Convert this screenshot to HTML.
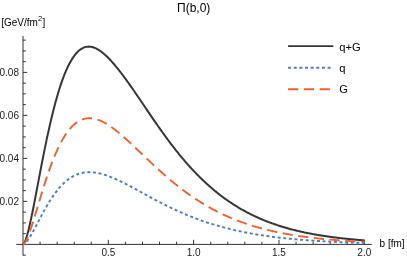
<!DOCTYPE html>
<html><head><meta charset="utf-8"><title>plot</title>
<style>
html,body{margin:0;padding:0;background:#fff;}
body{width:407px;height:258px;overflow:hidden;}
svg{display:block;will-change:transform;font-family:"Liberation Sans",sans-serif;}
</style></head><body>
<svg width="407" height="258" viewBox="0 0 407 258">
<rect width="407" height="258" fill="#ffffff"/>
<line x1="16.2" y1="244.4" x2="371.8" y2="244.4" stroke="#333333" stroke-width="1"/>
<line x1="23.0" y1="36.0" x2="23.0" y2="255.6" stroke="#333333" stroke-width="1"/>
<line x1="40.06" y1="244.4" x2="40.06" y2="241.70000000000002" stroke="#333333" stroke-width="1"/>
<line x1="57.13" y1="244.4" x2="57.13" y2="241.70000000000002" stroke="#333333" stroke-width="1"/>
<line x1="74.20" y1="244.4" x2="74.20" y2="241.70000000000002" stroke="#333333" stroke-width="1"/>
<line x1="91.26" y1="244.4" x2="91.26" y2="241.70000000000002" stroke="#333333" stroke-width="1"/>
<line x1="108.33" y1="244.4" x2="108.33" y2="239.8" stroke="#333333" stroke-width="1"/>
<line x1="125.39" y1="244.4" x2="125.39" y2="241.70000000000002" stroke="#333333" stroke-width="1"/>
<line x1="142.46" y1="244.4" x2="142.46" y2="241.70000000000002" stroke="#333333" stroke-width="1"/>
<line x1="159.52" y1="244.4" x2="159.52" y2="241.70000000000002" stroke="#333333" stroke-width="1"/>
<line x1="176.59" y1="244.4" x2="176.59" y2="241.70000000000002" stroke="#333333" stroke-width="1"/>
<line x1="193.65" y1="244.4" x2="193.65" y2="239.8" stroke="#333333" stroke-width="1"/>
<line x1="210.72" y1="244.4" x2="210.72" y2="241.70000000000002" stroke="#333333" stroke-width="1"/>
<line x1="227.78" y1="244.4" x2="227.78" y2="241.70000000000002" stroke="#333333" stroke-width="1"/>
<line x1="244.85" y1="244.4" x2="244.85" y2="241.70000000000002" stroke="#333333" stroke-width="1"/>
<line x1="261.91" y1="244.4" x2="261.91" y2="241.70000000000002" stroke="#333333" stroke-width="1"/>
<line x1="278.98" y1="244.4" x2="278.98" y2="239.8" stroke="#333333" stroke-width="1"/>
<line x1="296.04" y1="244.4" x2="296.04" y2="241.70000000000002" stroke="#333333" stroke-width="1"/>
<line x1="313.11" y1="244.4" x2="313.11" y2="241.70000000000002" stroke="#333333" stroke-width="1"/>
<line x1="330.17" y1="244.4" x2="330.17" y2="241.70000000000002" stroke="#333333" stroke-width="1"/>
<line x1="347.24" y1="244.4" x2="347.24" y2="241.70000000000002" stroke="#333333" stroke-width="1"/>
<line x1="364.30" y1="244.4" x2="364.30" y2="239.8" stroke="#333333" stroke-width="1"/>
<line x1="23.0" y1="255.15" x2="25.8" y2="255.15" stroke="#333333" stroke-width="1"/>
<line x1="23.0" y1="233.65" x2="25.8" y2="233.65" stroke="#333333" stroke-width="1"/>
<line x1="23.0" y1="222.90" x2="25.8" y2="222.90" stroke="#333333" stroke-width="1"/>
<line x1="23.0" y1="212.15" x2="25.8" y2="212.15" stroke="#333333" stroke-width="1"/>
<line x1="23.0" y1="201.40" x2="27.2" y2="201.40" stroke="#333333" stroke-width="1"/>
<line x1="23.0" y1="190.65" x2="25.8" y2="190.65" stroke="#333333" stroke-width="1"/>
<line x1="23.0" y1="179.90" x2="25.8" y2="179.90" stroke="#333333" stroke-width="1"/>
<line x1="23.0" y1="169.15" x2="25.8" y2="169.15" stroke="#333333" stroke-width="1"/>
<line x1="23.0" y1="158.40" x2="27.2" y2="158.40" stroke="#333333" stroke-width="1"/>
<line x1="23.0" y1="147.65" x2="25.8" y2="147.65" stroke="#333333" stroke-width="1"/>
<line x1="23.0" y1="136.90" x2="25.8" y2="136.90" stroke="#333333" stroke-width="1"/>
<line x1="23.0" y1="126.15" x2="25.8" y2="126.15" stroke="#333333" stroke-width="1"/>
<line x1="23.0" y1="115.40" x2="27.2" y2="115.40" stroke="#333333" stroke-width="1"/>
<line x1="23.0" y1="104.65" x2="25.8" y2="104.65" stroke="#333333" stroke-width="1"/>
<line x1="23.0" y1="93.90" x2="25.8" y2="93.90" stroke="#333333" stroke-width="1"/>
<line x1="23.0" y1="83.15" x2="25.8" y2="83.15" stroke="#333333" stroke-width="1"/>
<line x1="23.0" y1="72.40" x2="27.2" y2="72.40" stroke="#333333" stroke-width="1"/>
<line x1="23.0" y1="61.65" x2="25.8" y2="61.65" stroke="#333333" stroke-width="1"/>
<line x1="23.0" y1="50.90" x2="25.8" y2="50.90" stroke="#333333" stroke-width="1"/>
<line x1="23.0" y1="40.15" x2="25.8" y2="40.15" stroke="#333333" stroke-width="1"/>
<path d="M23.00,244.40 L23.85,243.73 L24.71,242.25 L25.56,240.19 L26.41,237.68 L27.27,234.80 L28.12,231.60 L28.97,228.14 L29.83,224.46 L30.68,220.60 L31.53,216.58 L32.39,212.43 L33.24,208.18 L34.09,203.85 L34.95,199.46 L35.80,195.02 L36.65,190.55 L37.51,186.07 L38.36,181.58 L39.21,177.10 L40.06,172.64 L40.92,168.21 L41.77,163.81 L42.62,159.45 L43.48,155.15 L44.33,150.90 L45.18,146.71 L46.04,142.59 L46.89,138.54 L47.74,134.56 L48.60,130.66 L49.45,126.85 L50.30,123.11 L51.16,119.46 L52.01,115.90 L52.86,112.44 L53.72,109.06 L54.57,105.77 L55.42,102.58 L56.28,99.48 L57.13,96.48 L57.98,93.57 L58.84,90.75 L59.69,88.04 L60.54,85.41 L61.40,82.88 L62.25,80.45 L63.10,78.11 L63.96,75.86 L64.81,73.71 L65.66,71.65 L66.52,69.68 L67.37,67.80 L68.22,66.01 L69.08,64.30 L69.93,62.69 L70.78,61.16 L71.64,59.72 L72.49,58.36 L73.34,57.08 L74.19,55.88 L75.05,54.77 L75.90,53.73 L76.75,52.77 L77.61,51.88 L78.46,51.07 L79.31,50.33 L80.17,49.67 L81.02,49.07 L81.87,48.54 L82.73,48.08 L83.58,47.69 L84.43,47.36 L85.29,47.09 L86.14,46.88 L86.99,46.74 L87.85,46.65 L88.70,46.61 L89.55,46.64 L90.41,46.71 L91.26,46.84 L92.11,47.02 L92.97,47.24 L93.82,47.51 L94.67,47.83 L95.53,48.20 L96.38,48.60 L97.23,49.05 L98.09,49.53 L98.94,50.06 L99.79,50.62 L100.65,51.21 L101.50,51.84 L102.35,52.51 L103.21,53.20 L104.06,53.92 L104.91,54.68 L105.77,55.45 L106.62,56.26 L107.47,57.09 L108.33,57.95 L109.18,58.82 L110.03,59.72 L110.88,60.64 L111.74,61.58 L112.59,62.54 L113.44,63.52 L114.30,64.52 L115.15,65.53 L116.00,66.55 L116.86,67.60 L117.71,68.65 L118.56,69.72 L119.42,70.81 L120.27,71.90 L121.12,73.01 L121.98,74.13 L122.83,75.26 L123.68,76.40 L124.54,77.55 L125.39,78.71 L126.24,79.88 L127.10,81.06 L127.95,82.25 L128.80,83.44 L129.66,84.64 L130.51,85.85 L131.36,87.07 L132.22,88.29 L133.07,89.51 L133.92,90.74 L134.78,91.98 L135.63,93.22 L136.48,94.47 L137.34,95.71 L138.19,96.96 L139.04,98.22 L139.90,99.48 L140.75,100.73 L141.60,101.99 L142.46,103.26 L143.31,104.52 L144.16,105.78 L145.01,107.04 L145.87,108.31 L146.72,109.57 L147.57,110.83 L148.43,112.09 L149.28,113.35 L150.13,114.60 L150.99,115.85 L151.84,117.10 L152.69,118.35 L153.55,119.60 L154.40,120.84 L155.25,122.07 L156.11,123.31 L156.96,124.53 L157.81,125.76 L158.67,126.97 L159.52,128.19 L160.37,129.40 L161.23,130.60 L162.08,131.79 L162.93,132.98 L163.79,134.17 L164.64,135.35 L165.49,136.52 L166.35,137.68 L167.20,138.84 L168.05,139.99 L168.91,141.14 L169.76,142.27 L170.61,143.40 L171.47,144.53 L172.32,145.64 L173.17,146.75 L174.03,147.85 L174.88,148.94 L175.73,150.02 L176.59,151.10 L177.44,152.17 L178.29,153.23 L179.14,154.28 L180.00,155.32 L180.85,156.36 L181.70,157.38 L182.56,158.40 L183.41,159.41 L184.26,160.42 L185.12,161.41 L185.97,162.40 L186.82,163.37 L187.68,164.34 L188.53,165.30 L189.38,166.26 L190.24,167.20 L191.09,168.13 L191.94,169.06 L192.80,169.98 L193.65,170.89 L194.50,171.79 L195.36,172.68 L196.21,173.57 L197.06,174.44 L197.92,175.31 L198.77,176.17 L199.62,177.02 L200.48,177.86 L201.33,178.70 L202.18,179.52 L203.04,180.34 L203.89,181.15 L204.74,181.95 L205.60,182.75 L206.45,183.53 L207.30,184.31 L208.16,185.08 L209.01,185.84 L209.86,186.59 L210.72,187.34 L211.57,188.07 L212.42,188.80 L213.27,189.52 L214.13,190.24 L214.98,190.94 L215.83,191.64 L216.69,192.33 L217.54,193.01 L218.39,193.69 L219.25,194.36 L220.10,195.02 L220.95,195.67 L221.81,196.32 L222.66,196.95 L223.51,197.58 L224.37,198.21 L225.22,198.83 L226.07,199.44 L226.93,200.04 L227.78,200.63 L228.63,201.22 L229.49,201.80 L230.34,202.38 L231.19,202.95 L232.05,203.51 L232.90,204.06 L233.75,204.61 L234.61,205.15 L235.46,205.69 L236.31,206.22 L237.17,206.74 L238.02,207.26 L238.87,207.77 L239.73,208.27 L240.58,208.77 L241.43,209.26 L242.29,209.75 L243.14,210.22 L243.99,210.70 L244.85,211.17 L245.70,211.63 L246.55,212.08 L247.40,212.53 L248.26,212.98 L249.11,213.42 L249.96,213.85 L250.82,214.28 L251.67,214.70 L252.52,215.12 L253.38,215.53 L254.23,215.94 L255.08,216.34 L255.94,216.74 L256.79,217.13 L257.64,217.52 L258.50,217.90 L259.35,218.27 L260.20,218.64 L261.06,219.01 L261.91,219.37 L262.76,219.73 L263.62,220.08 L264.47,220.43 L265.32,220.77 L266.18,221.11 L267.03,221.45 L267.88,221.78 L268.74,222.10 L269.59,222.42 L270.44,222.74 L271.30,223.05 L272.15,223.36 L273.00,223.67 L273.86,223.97 L274.71,224.26 L275.56,224.56 L276.42,224.85 L277.27,225.13 L278.12,225.41 L278.98,225.69 L279.83,225.96 L280.68,226.23 L281.53,226.50 L282.39,226.76 L283.24,227.02 L284.09,227.27 L284.95,227.52 L285.80,227.77 L286.65,228.02 L287.51,228.26 L288.36,228.49 L289.21,228.73 L290.07,228.96 L290.92,229.19 L291.77,229.41 L292.63,229.64 L293.48,229.85 L294.33,230.07 L295.19,230.28 L296.04,230.49 L296.89,230.70 L297.75,230.90 L298.60,231.10 L299.45,231.30 L300.31,231.50 L301.16,231.69 L302.01,231.88 L302.87,232.07 L303.72,232.25 L304.57,232.44 L305.43,232.61 L306.28,232.79 L307.13,232.97 L307.99,233.14 L308.84,233.31 L309.69,233.47 L310.55,233.64 L311.40,233.80 L312.25,233.96 L313.11,234.12 L313.96,234.27 L314.81,234.43 L315.66,234.58 L316.52,234.73 L317.37,234.87 L318.22,235.02 L319.08,235.16 L319.93,235.30 L320.78,235.44 L321.64,235.58 L322.49,235.71 L323.34,235.84 L324.20,235.97 L325.05,236.10 L325.90,236.23 L326.76,236.35 L327.61,236.48 L328.46,236.60 L329.32,236.72 L330.17,236.83 L331.02,236.95 L331.88,237.06 L332.73,237.18 L333.58,237.29 L334.44,237.40 L335.29,237.50 L336.14,237.61 L337.00,237.71 L337.85,237.82 L338.70,237.92 L339.56,238.02 L340.41,238.12 L341.26,238.21 L342.12,238.31 L342.97,238.40 L343.82,238.50 L344.68,238.59 L345.53,238.68 L346.38,238.77 L347.24,238.85 L348.09,238.94 L348.94,239.02 L349.79,239.11 L350.65,239.19 L351.50,239.27 L352.35,239.35 L353.21,239.43 L354.06,239.51 L354.91,239.58 L355.77,239.66 L356.62,239.73 L357.47,239.81 L358.33,239.88 L359.18,239.95 L360.03,240.02 L360.89,240.09 L361.74,240.15 L362.59,240.22 L363.45,240.28 L364.30,240.35" fill="none" stroke="#363636" stroke-width="2.0" stroke-linejoin="round"/>
<path d="M23.00,244.40 L23.85,244.15 L24.71,243.62 L25.56,242.87 L26.41,241.96 L27.27,240.91 L28.12,239.74 L28.97,238.48 L29.83,237.14 L30.68,235.74 L31.53,234.27 L32.39,232.76 L33.24,231.22 L34.09,229.64 L34.95,228.04 L35.80,226.43 L36.65,224.80 L37.51,223.17 L38.36,221.53 L39.21,219.90 L40.06,218.28 L40.92,216.67 L41.77,215.06 L42.62,213.48 L43.48,211.91 L44.33,210.37 L45.18,208.84 L46.04,207.34 L46.89,205.87 L47.74,204.42 L48.60,203.00 L49.45,201.61 L50.30,200.25 L51.16,198.92 L52.01,197.63 L52.86,196.36 L53.72,195.13 L54.57,193.94 L55.42,192.77 L56.28,191.65 L57.13,190.55 L57.98,189.49 L58.84,188.47 L59.69,187.48 L60.54,186.52 L61.40,185.60 L62.25,184.71 L63.10,183.86 L63.96,183.04 L64.81,182.25 L65.66,181.50 L66.52,180.78 L67.37,180.09 L68.22,179.44 L69.08,178.82 L69.93,178.23 L70.78,177.66 L71.64,177.13 L72.49,176.63 L73.34,176.16 L74.19,175.72 L75.05,175.31 L75.90,174.93 L76.75,174.57 L77.61,174.24 L78.46,173.94 L79.31,173.66 L80.17,173.41 L81.02,173.18 L81.87,172.98 L82.73,172.80 L83.58,172.65 L84.43,172.52 L85.29,172.41 L86.14,172.32 L86.99,172.25 L87.85,172.21 L88.70,172.18 L89.55,172.18 L90.41,172.19 L91.26,172.22 L92.11,172.27 L92.97,172.34 L93.82,172.42 L94.67,172.53 L95.53,172.65 L96.38,172.78 L97.23,172.93 L98.09,173.09 L98.94,173.27 L99.79,173.46 L100.65,173.67 L101.50,173.89 L102.35,174.12 L103.21,174.36 L104.06,174.62 L104.91,174.89 L105.77,175.16 L106.62,175.45 L107.47,175.75 L108.33,176.06 L109.18,176.38 L110.03,176.71 L110.88,177.04 L111.74,177.39 L112.59,177.74 L113.44,178.10 L114.30,178.47 L115.15,178.84 L116.00,179.22 L116.86,179.61 L117.71,180.00 L118.56,180.40 L119.42,180.81 L120.27,181.22 L121.12,181.63 L121.98,182.05 L122.83,182.47 L123.68,182.90 L124.54,183.34 L125.39,183.77 L126.24,184.21 L127.10,184.65 L127.95,185.10 L128.80,185.55 L129.66,186.00 L130.51,186.45 L131.36,186.91 L132.22,187.36 L133.07,187.82 L133.92,188.28 L134.78,188.75 L135.63,189.21 L136.48,189.67 L137.34,190.14 L138.19,190.60 L139.04,191.07 L139.90,191.54 L140.75,192.00 L141.60,192.47 L142.46,192.94 L143.31,193.41 L144.16,193.87 L145.01,194.34 L145.87,194.80 L146.72,195.27 L147.57,195.73 L148.43,196.20 L149.28,196.66 L150.13,197.12 L150.99,197.58 L151.84,198.04 L152.69,198.49 L153.55,198.95 L154.40,199.40 L155.25,199.86 L156.11,200.31 L156.96,200.75 L157.81,201.20 L158.67,201.65 L159.52,202.09 L160.37,202.53 L161.23,202.97 L162.08,203.41 L162.93,203.84 L163.79,204.27 L164.64,204.70 L165.49,205.13 L166.35,205.55 L167.20,205.97 L168.05,206.39 L168.91,206.81 L169.76,207.22 L170.61,207.64 L171.47,208.04 L172.32,208.45 L173.17,208.85 L174.03,209.25 L174.88,209.65 L175.73,210.05 L176.59,210.44 L177.44,210.83 L178.29,211.21 L179.14,211.60 L180.00,211.98 L180.85,212.35 L181.70,212.73 L182.56,213.10 L183.41,213.47 L184.26,213.83 L185.12,214.19 L185.97,214.55 L186.82,214.91 L187.68,215.26 L188.53,215.61 L189.38,215.96 L190.24,216.30 L191.09,216.64 L191.94,216.98 L192.80,217.31 L193.65,217.64 L194.50,217.97 L195.36,218.30 L196.21,218.62 L197.06,218.94 L197.92,219.25 L198.77,219.56 L199.62,219.87 L200.48,220.18 L201.33,220.48 L202.18,220.79 L203.04,221.08 L203.89,221.38 L204.74,221.67 L205.60,221.96 L206.45,222.24 L207.30,222.53 L208.16,222.81 L209.01,223.08 L209.86,223.36 L210.72,223.63 L211.57,223.90 L212.42,224.16 L213.27,224.42 L214.13,224.68 L214.98,224.94 L215.83,225.20 L216.69,225.45 L217.54,225.70 L218.39,225.94 L219.25,226.18 L220.10,226.42 L220.95,226.66 L221.81,226.90 L222.66,227.13 L223.51,227.36 L224.37,227.59 L225.22,227.81 L226.07,228.03 L226.93,228.25 L227.78,228.47 L228.63,228.68 L229.49,228.90 L230.34,229.10 L231.19,229.31 L232.05,229.52 L232.90,229.72 L233.75,229.92 L234.61,230.11 L235.46,230.31 L236.31,230.50 L237.17,230.69 L238.02,230.88 L238.87,231.07 L239.73,231.25 L240.58,231.43 L241.43,231.61 L242.29,231.79 L243.14,231.96 L243.99,232.13 L244.85,232.30 L245.70,232.47 L246.55,232.64 L247.40,232.80 L248.26,232.96 L249.11,233.12 L249.96,233.28 L250.82,233.44 L251.67,233.59 L252.52,233.74 L253.38,233.89 L254.23,234.04 L255.08,234.19 L255.94,234.33 L256.79,234.47 L257.64,234.61 L258.50,234.75 L259.35,234.89 L260.20,235.03 L261.06,235.16 L261.91,235.29 L262.76,235.42 L263.62,235.55 L264.47,235.68 L265.32,235.80 L266.18,235.92 L267.03,236.05 L267.88,236.17 L268.74,236.28 L269.59,236.40 L270.44,236.52 L271.30,236.63 L272.15,236.74 L273.00,236.85 L273.86,236.96 L274.71,237.07 L275.56,237.18 L276.42,237.28 L277.27,237.39 L278.12,237.49 L278.98,237.59 L279.83,237.69 L280.68,237.79 L281.53,237.88 L282.39,237.98 L283.24,238.07 L284.09,238.17 L284.95,238.26 L285.80,238.35 L286.65,238.44 L287.51,238.52 L288.36,238.61 L289.21,238.70 L290.07,238.78 L290.92,238.86 L291.77,238.95 L292.63,239.03 L293.48,239.11 L294.33,239.18 L295.19,239.26 L296.04,239.34 L296.89,239.41 L297.75,239.49 L298.60,239.56 L299.45,239.63 L300.31,239.70 L301.16,239.77 L302.01,239.84 L302.87,239.91 L303.72,239.98 L304.57,240.04 L305.43,240.11 L306.28,240.17 L307.13,240.24 L307.99,240.30 L308.84,240.36 L309.69,240.42 L310.55,240.48 L311.40,240.54 L312.25,240.60 L313.11,240.66 L313.96,240.71 L314.81,240.77 L315.66,240.82 L316.52,240.88 L317.37,240.93 L318.22,240.98 L319.08,241.04 L319.93,241.09 L320.78,241.14 L321.64,241.19 L322.49,241.24 L323.34,241.28 L324.20,241.33 L325.05,241.38 L325.90,241.43 L326.76,241.47 L327.61,241.52 L328.46,241.56 L329.32,241.60 L330.17,241.65 L331.02,241.69 L331.88,241.73 L332.73,241.77 L333.58,241.81 L334.44,241.85 L335.29,241.89 L336.14,241.93 L337.00,241.97 L337.85,242.00 L338.70,242.04 L339.56,242.08 L340.41,242.11 L341.26,242.15 L342.12,242.18 L342.97,242.22 L343.82,242.25 L344.68,242.28 L345.53,242.32 L346.38,242.35 L347.24,242.38 L348.09,242.41 L348.94,242.44 L349.79,242.47 L350.65,242.50 L351.50,242.53 L352.35,242.56 L353.21,242.59 L354.06,242.62 L354.91,242.65 L355.77,242.67 L356.62,242.70 L357.47,242.73 L358.33,242.75 L359.18,242.78 L360.03,242.80 L360.89,242.83 L361.74,242.85 L362.59,242.88 L363.45,242.90 L364.30,242.93" fill="none" stroke="#4f7bbd" stroke-width="1.9" stroke-dasharray="2.98 2.66" stroke-dashoffset="0.8"/>
<path d="M23.00,244.40 L23.85,243.97 L24.71,243.03 L25.56,241.72 L26.41,240.13 L27.27,238.29 L28.12,236.26 L28.97,234.06 L29.83,231.72 L30.68,229.26 L31.53,226.71 L32.39,224.07 L33.24,221.37 L34.09,218.61 L34.95,215.82 L35.80,212.99 L36.65,210.15 L37.51,207.30 L38.36,204.45 L39.21,201.60 L40.06,198.76 L40.92,195.94 L41.77,193.14 L42.62,190.37 L43.48,187.64 L44.33,184.93 L45.18,182.27 L46.04,179.65 L46.89,177.07 L47.74,174.54 L48.60,172.06 L49.45,169.63 L50.30,167.26 L51.16,164.94 L52.01,162.67 L52.86,160.47 L53.72,158.32 L54.57,156.23 L55.42,154.20 L56.28,152.22 L57.13,150.31 L57.98,148.46 L58.84,146.67 L59.69,144.94 L60.54,143.27 L61.40,141.66 L62.25,140.11 L63.10,138.62 L63.96,137.19 L64.81,135.81 L65.66,134.50 L66.52,133.24 L67.37,132.04 L68.22,130.90 L69.08,129.81 L69.93,128.78 L70.78,127.80 L71.64,126.87 L72.49,126.00 L73.34,125.18 L74.19,124.40 L75.05,123.68 L75.90,123.01 L76.75,122.39 L77.61,121.81 L78.46,121.28 L79.31,120.80 L80.17,120.36 L81.02,119.96 L81.87,119.61 L82.73,119.30 L83.58,119.03 L84.43,118.80 L85.29,118.61 L86.14,118.46 L86.99,118.34 L87.85,118.26 L88.70,118.22 L89.55,118.21 L90.41,118.23 L91.26,118.29 L92.11,118.37 L92.97,118.49 L93.82,118.64 L94.67,118.82 L95.53,119.03 L96.38,119.26 L97.23,119.52 L98.09,119.81 L98.94,120.12 L99.79,120.46 L100.65,120.82 L101.50,121.20 L102.35,121.60 L103.21,122.03 L104.06,122.48 L104.91,122.94 L105.77,123.43 L106.62,123.93 L107.47,124.46 L108.33,124.99 L109.18,125.55 L110.03,126.12 L110.88,126.71 L111.74,127.31 L112.59,127.92 L113.44,128.55 L114.30,129.20 L115.15,129.85 L116.00,130.52 L116.86,131.19 L117.71,131.88 L118.56,132.58 L119.42,133.28 L120.27,134.00 L121.12,134.73 L121.98,135.46 L122.83,136.20 L123.68,136.95 L124.54,137.70 L125.39,138.47 L126.24,139.23 L127.10,140.01 L127.95,140.79 L128.80,141.57 L129.66,142.36 L130.51,143.15 L131.36,143.94 L132.22,144.74 L133.07,145.55 L133.92,146.35 L134.78,147.16 L135.63,147.97 L136.48,148.78 L137.34,149.59 L138.19,150.41 L139.04,151.22 L139.90,152.04 L140.75,152.85 L141.60,153.67 L142.46,154.48 L143.31,155.30 L144.16,156.11 L145.01,156.93 L145.87,157.74 L146.72,158.55 L147.57,159.36 L148.43,160.17 L149.28,160.98 L150.13,161.79 L150.99,162.59 L151.84,163.39 L152.69,164.19 L153.55,164.99 L154.40,165.78 L155.25,166.57 L156.11,167.36 L156.96,168.14 L157.81,168.92 L158.67,169.70 L159.52,170.47 L160.37,171.24 L161.23,172.01 L162.08,172.77 L162.93,173.53 L163.79,174.29 L164.64,175.04 L165.49,175.78 L166.35,176.52 L167.20,177.26 L168.05,177.99 L168.91,178.72 L169.76,179.44 L170.61,180.16 L171.47,180.88 L172.32,181.59 L173.17,182.29 L174.03,182.99 L174.88,183.69 L175.73,184.38 L176.59,185.06 L177.44,185.74 L178.29,186.41 L179.14,187.08 L180.00,187.75 L180.85,188.40 L181.70,189.06 L182.56,189.71 L183.41,190.35 L184.26,190.99 L185.12,191.62 L185.97,192.25 L186.82,192.87 L187.68,193.48 L188.53,194.09 L189.38,194.70 L190.24,195.30 L191.09,195.89 L191.94,196.48 L192.80,197.07 L193.65,197.65 L194.50,198.22 L195.36,198.79 L196.21,199.35 L197.06,199.91 L197.92,200.46 L198.77,201.01 L199.62,201.55 L200.48,202.08 L201.33,202.61 L202.18,203.14 L203.04,203.66 L203.89,204.17 L204.74,204.68 L205.60,205.19 L206.45,205.69 L207.30,206.18 L208.16,206.67 L209.01,207.15 L209.86,207.63 L210.72,208.11 L211.57,208.58 L212.42,209.04 L213.27,209.50 L214.13,209.95 L214.98,210.40 L215.83,210.84 L216.69,211.28 L217.54,211.72 L218.39,212.15 L219.25,212.57 L220.10,212.99 L220.95,213.41 L221.81,213.82 L222.66,214.22 L223.51,214.63 L224.37,215.02 L225.22,215.41 L226.07,215.80 L226.93,216.19 L227.78,216.56 L228.63,216.94 L229.49,217.31 L230.34,217.67 L231.19,218.04 L232.05,218.39 L232.90,218.75 L233.75,219.09 L234.61,219.44 L235.46,219.78 L236.31,220.12 L237.17,220.45 L238.02,220.78 L238.87,221.10 L239.73,221.42 L240.58,221.74 L241.43,222.05 L242.29,222.36 L243.14,222.66 L243.99,222.97 L244.85,223.26 L245.70,223.56 L246.55,223.85 L247.40,224.13 L248.26,224.42 L249.11,224.70 L249.96,224.97 L250.82,225.24 L251.67,225.51 L252.52,225.78 L253.38,226.04 L254.23,226.30 L255.08,226.55 L255.94,226.81 L256.79,227.06 L257.64,227.30 L258.50,227.54 L259.35,227.78 L260.20,228.02 L261.06,228.25 L261.91,228.48 L262.76,228.71 L263.62,228.93 L264.47,229.16 L265.32,229.37 L266.18,229.59 L267.03,229.80 L267.88,230.01 L268.74,230.22 L269.59,230.42 L270.44,230.63 L271.30,230.82 L272.15,231.02 L273.00,231.21 L273.86,231.41 L274.71,231.59 L275.56,231.78 L276.42,231.96 L277.27,232.14 L278.12,232.32 L278.98,232.50 L279.83,232.67 L280.68,232.84 L281.53,233.01 L282.39,233.18 L283.24,233.34 L284.09,233.51 L284.95,233.67 L285.80,233.82 L286.65,233.98 L287.51,234.13 L288.36,234.28 L289.21,234.43 L290.07,234.58 L290.92,234.73 L291.77,234.87 L292.63,235.01 L293.48,235.15 L294.33,235.29 L295.19,235.42 L296.04,235.56 L296.89,235.69 L297.75,235.82 L298.60,235.94 L299.45,236.07 L300.31,236.19 L301.16,236.32 L302.01,236.44 L302.87,236.56 L303.72,236.67 L304.57,236.79 L305.43,236.90 L306.28,237.02 L307.13,237.13 L307.99,237.24 L308.84,237.35 L309.69,237.45 L310.55,237.56 L311.40,237.66 L312.25,237.76 L313.11,237.86 L313.96,237.96 L314.81,238.06 L315.66,238.15 L316.52,238.25 L317.37,238.34 L318.22,238.43 L319.08,238.52 L319.93,238.61 L320.78,238.70 L321.64,238.79 L322.49,238.87 L323.34,238.96 L324.20,239.04 L325.05,239.12 L325.90,239.20 L326.76,239.28 L327.61,239.36 L328.46,239.44 L329.32,239.51 L330.17,239.59 L331.02,239.66 L331.88,239.73 L332.73,239.81 L333.58,239.88 L334.44,239.95 L335.29,240.01 L336.14,240.08 L337.00,240.15 L337.85,240.21 L338.70,240.28 L339.56,240.34 L340.41,240.40 L341.26,240.47 L342.12,240.53 L342.97,240.59 L343.82,240.65 L344.68,240.70 L345.53,240.76 L346.38,240.82 L347.24,240.87 L348.09,240.93 L348.94,240.98 L349.79,241.03 L350.65,241.09 L351.50,241.14 L352.35,241.19 L353.21,241.24 L354.06,241.29 L354.91,241.34 L355.77,241.38 L356.62,241.43 L357.47,241.48 L358.33,241.52 L359.18,241.57 L360.03,241.61 L360.89,241.66 L361.74,241.70 L362.59,241.74 L363.45,241.78 L364.30,241.82" fill="none" stroke="#eb6235" stroke-width="1.9" stroke-dasharray="10.2 5.58" stroke-dashoffset="0.9"/>
<line x1="288.1" y1="46.1" x2="333.3" y2="46.1" stroke="#363636" stroke-width="1.9"/>
<line x1="288.1" y1="67.7" x2="332.5" y2="67.7" stroke="#4f7bbd" stroke-width="1.9" stroke-dasharray="2.98 2.66"/>
<line x1="288.1" y1="89.2" x2="333.3" y2="89.2" stroke="#eb6235" stroke-width="1.9" stroke-dasharray="10.2 5.58"/>
<text x="339.3" y="50.7" font-size="11.2" fill="#000">q+G</text>
<text x="339.3" y="71.6" font-size="11.2" fill="#000">q</text>
<text x="339.3" y="93.3" font-size="11.2" fill="#000">G</text>
<text x="19.0" y="204.90" font-size="10" text-anchor="end" fill="#1a1a1a">0.02</text>
<text x="19.0" y="161.90" font-size="10" text-anchor="end" fill="#1a1a1a">0.04</text>
<text x="19.0" y="118.90" font-size="10" text-anchor="end" fill="#1a1a1a">0.06</text>
<text x="19.0" y="75.90" font-size="10" text-anchor="end" fill="#1a1a1a">0.08</text>
<text x="108.33" y="256.0" font-size="10" text-anchor="middle" fill="#1a1a1a">0.5</text>
<text x="193.65" y="256.0" font-size="10" text-anchor="middle" fill="#1a1a1a">1.0</text>
<text x="278.98" y="256.0" font-size="10" text-anchor="middle" fill="#1a1a1a">1.5</text>
<text x="364.30" y="256.0" font-size="10" text-anchor="middle" fill="#1a1a1a">2.0</text>
<text x="379.6" y="246.5" font-size="10" fill="#000">b [fm]</text>
<text x="1.2" y="26.3" font-size="10" fill="#000">[GeV/fm<tspan font-size="7.5" dy="-5.6" dx="0.2">2</tspan><tspan dy="5.6" dx="0.3">]</tspan></text>
<text x="193.7" y="12.3" font-size="12" text-anchor="middle" fill="#000">Π(b,0)</text>
</svg>
</body></html>
